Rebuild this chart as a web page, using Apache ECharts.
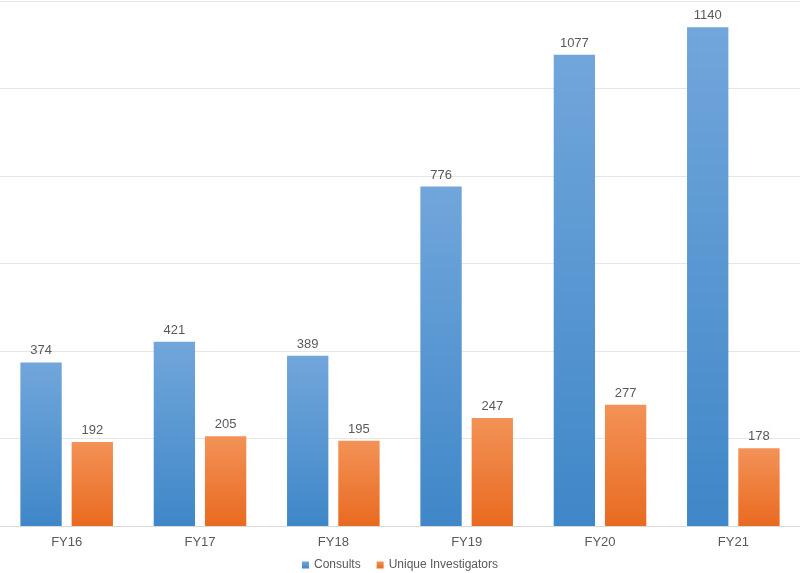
<!DOCTYPE html>
<html lang="en">
<head>
<meta charset="UTF-8">
<title>Consults vs Unique Investigators</title>
<script src="https://cdn.jsdelivr.net/npm/echarts/dist/echarts.min.js"></script>
<style>
    html, body { margin: 0; padding: 0; background: #fff; }
    #chart { width: 800px; height: 573px; }
</style>
</head>
<body>
<div id="chart"></div>
<script>
var years = ['FY16', 'FY17', 'FY18', 'FY19', 'FY20', 'FY21'];
var consults = [374, 421, 389, 776, 1077, 1140];
var investigators = [192, 205, 195, 247, 277, 178];

var myChart = echarts.init(document.getElementById('chart'));

function grad(top, bottom) {
    return new echarts.graphic.LinearGradient(0, 0, 0, 1, [
        { offset: 0, color: top },
        { offset: 1, color: bottom }
    ]);
}

var labelStyle = {
    show: true,
    position: 'top',
    distance: 5,
    color: '#595959',
    fontSize: 13,
    fontFamily: 'Liberation Sans'
};

var option = {
    animation: false,
    textStyle: { fontFamily: 'Liberation Sans' },
    grid: { left: 0, right: 0, top: 1, bottom: 47, containLabel: false },
    legend: {
        top: 554,
        left: 'center',
        itemWidth: 7,
        itemHeight: 7,
        itemGap: 16,
        icon: 'rect',
        textStyle: { color: '#595959', fontSize: 12 },
        data: ['Consults', 'Unique Investigators']
    },
    xAxis: {
        type: 'category',
        data: years,
        axisTick: { show: false },
        axisLine: { lineStyle: { color: '#d9d9d9' } },
        axisLabel: { color: '#595959', fontSize: 13, margin: 10 }
    },
    yAxis: {
        type: 'value',
        min: 0,
        max: 1200,
        interval: 200,
        axisLabel: { show: false },
        axisLine: { show: false },
        axisTick: { show: false },
        splitLine: { lineStyle: { color: '#e6e6e6' } }
    },
    series: [
        {
            name: 'Consults',
            type: 'bar',
            data: consults,
            barWidth: '31%',
            barGap: '24%',
            itemStyle: { color: grad('#71a6db', '#3f87c8') },
            label: labelStyle
        },
        {
            name: 'Unique Investigators',
            type: 'bar',
            data: investigators,
            barWidth: '31%',
            itemStyle: { color: grad('#f39257', '#e96a20') },
            label: labelStyle
        }
    ]
};

myChart.setOption(option);
</script>
</body>
</html>
